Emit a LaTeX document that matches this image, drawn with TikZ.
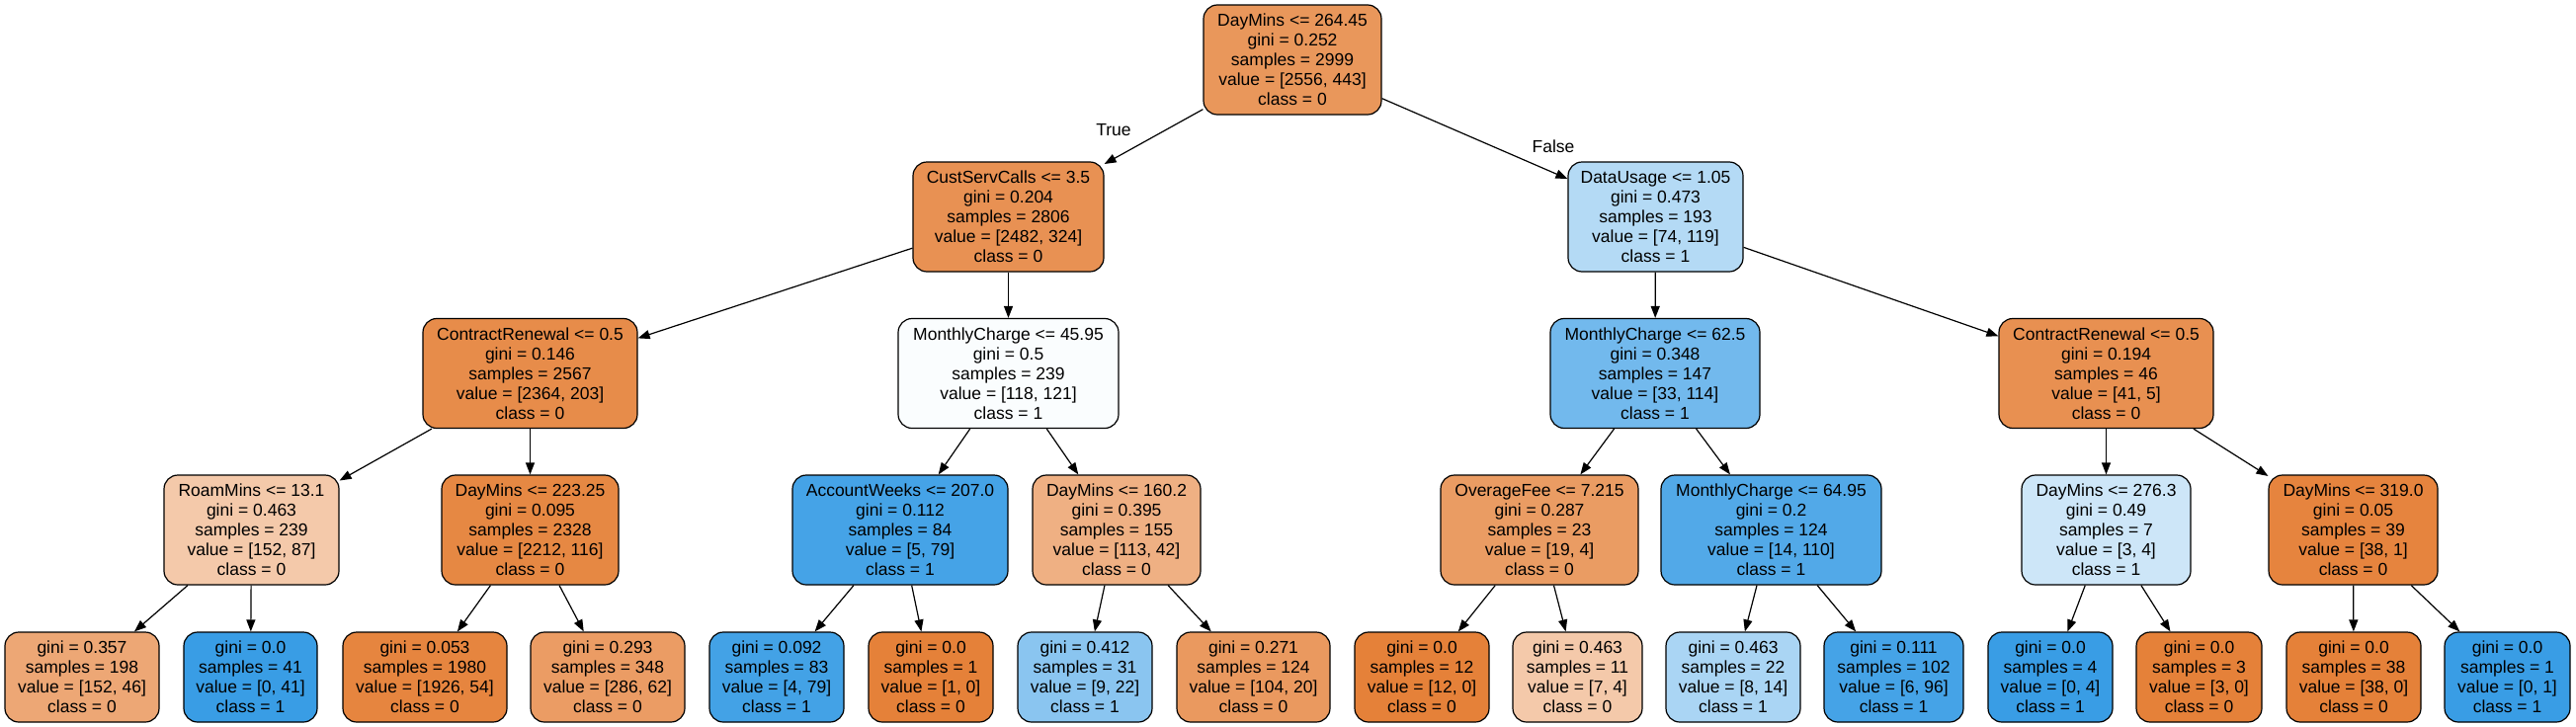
\documentclass[tikz,border=0pt]{standalone}
\usepackage{fontspec}
\setmainfont{Liberation Sans}
\usetikzlibrary{arrows.meta}
\definecolor{co}{RGB}{229,129,57}
\definecolor{cb}{RGB}{57,157,229}
\tikzset{
  tbox/.style={draw=black, line width=1.2pt, rounded corners=14pt, align=center,
    inner sep=0pt, minimum height=111pt, font=\fontsize{17.5}{20}\selectfont},
  leaf/.style={tbox, minimum height=91pt},
  edge/.style={draw=black, line width=1.2pt, -{Triangle[length=12pt,width=9pt]}},
  elab/.style={font=\fontsize{17.5}{20}\selectfont, inner sep=0pt}
}
\begin{document}
\begin{tikzpicture}[x=1pt,y=-1pt]
\useasboundingbox[fill=white] (0,0) rectangle (2607,736);
% level 0
\node[tbox, minimum width=180pt, fill=co!82.7!white] (n0) at (1308,60.5) {DayMins <= 264.45\\gini = 0.252\\samples = 2999\\value = [2556, 443]\\class = 0};
% level 1
\node[tbox, minimum width=193pt, fill=co!86.9!white] (n1) at (1020.5,219.5) {CustServCalls <= 3.5\\gini = 0.204\\samples = 2806\\value = [2482, 324]\\class = 0};
\node[tbox, minimum width=177pt, fill=cb!37.8!white] (n16) at (1675.5,219.5) {DataUsage <= 1.05\\gini = 0.473\\samples = 193\\value = [74, 119]\\class = 1};
% level 2
\node[tbox, minimum width=217pt, fill=co!91.4!white] (n2) at (536.5,378) {ContractRenewal <= 0.5\\gini = 0.146\\samples = 2567\\value = [2364, 203]\\class = 0};
\node[tbox, minimum width=223pt, fill=cb!2.5!white] (n9) at (1020.5,378) {MonthlyCharge <= 45.95\\gini = 0.5\\samples = 239\\value = [118, 121]\\class = 1};
\node[tbox, minimum width=212pt, fill=cb!71.1!white] (n17) at (1675,378) {MonthlyCharge <= 62.5\\gini = 0.348\\samples = 147\\value = [33, 114]\\class = 1};
\node[tbox, minimum width=217pt, fill=co!87.8!white] (n24) at (2131.5,378) {ContractRenewal <= 0.5\\gini = 0.194\\samples = 46\\value = [41, 5]\\class = 0};
% level 3
\node[tbox, minimum width=177pt, fill=co!42.8!white] (n3) at (254.5,536.5) {RoamMins <= 13.1\\gini = 0.463\\samples = 239\\value = [152, 87]\\class = 0};
\node[tbox, minimum width=179pt, fill=co!94.8!white] (n6) at (536.5,536.5) {DayMins <= 223.25\\gini = 0.095\\samples = 2328\\value = [2212, 116]\\class = 0};
\node[tbox, minimum width=218pt, fill=cb!93.7!white] (n10) at (911,536.5) {AccountWeeks <= 207.0\\gini = 0.112\\samples = 84\\value = [5, 79]\\class = 1};
\node[tbox, minimum width=170pt, fill=co!62.8!white] (n13) at (1130,536.5) {DayMins <= 160.2\\gini = 0.395\\samples = 155\\value = [113, 42]\\class = 0};
\node[tbox, minimum width=200pt, fill=co!78.9!white] (n18) at (1558,536.5) {OverageFee <= 7.215\\gini = 0.287\\samples = 23\\value = [19, 4]\\class = 0};
\node[tbox, minimum width=223pt, fill=cb!87.3!white] (n21) at (1792.5,536.5) {MonthlyCharge <= 64.95\\gini = 0.2\\samples = 124\\value = [14, 110]\\class = 1};
\node[tbox, minimum width=171pt, fill=cb!25!white] (n25) at (2131.5,536.5) {DayMins <= 276.3\\gini = 0.49\\samples = 7\\value = [3, 4]\\class = 1};
\node[tbox, minimum width=171pt, fill=co!97.4!white] (n28) at (2381.5,536.5) {DayMins <= 319.0\\gini = 0.05\\samples = 39\\value = [38, 1]\\class = 0};
% leaves
\node[leaf, minimum width=156pt, fill=co!69.7!white] (n4) at (83,685.5) {gini = 0.357\\samples = 198\\value = [152, 46]\\class = 0};
\node[leaf, minimum width=135pt, fill=cb] (n5) at (253.5,685.5) {gini = 0.0\\samples = 41\\value = [0, 41]\\class = 1};
\node[leaf, minimum width=166pt, fill=co!97.2!white] (n7) at (430,685.5) {gini = 0.053\\samples = 1980\\value = [1926, 54]\\class = 0};
\node[leaf, minimum width=156pt, fill=co!78.3!white] (n8) at (615,685.5) {gini = 0.293\\samples = 348\\value = [286, 62]\\class = 0};
\node[leaf, minimum width=136pt, fill=cb!94.9!white] (n11) at (786,685.5) {gini = 0.092\\samples = 83\\value = [4, 79]\\class = 1};
\node[leaf, minimum width=126pt, fill=co] (n12) at (942,685.5) {gini = 0.0\\samples = 1\\value = [1, 0]\\class = 0};
\node[leaf, minimum width=136pt, fill=cb!59.1!white] (n14) at (1098,685.5) {gini = 0.412\\samples = 31\\value = [9, 22]\\class = 1};
\node[leaf, minimum width=155pt, fill=co!80.8!white] (n15) at (1268.5,685.5) {gini = 0.271\\samples = 124\\value = [104, 20]\\class = 0};
\node[leaf, minimum width=136pt, fill=co] (n19) at (1439,685.5) {gini = 0.0\\samples = 12\\value = [12, 0]\\class = 0};
\node[leaf, minimum width=131pt, fill=co!42.9!white] (n20) at (1596.5,685.5) {gini = 0.463\\samples = 11\\value = [7, 4]\\class = 0};
\node[leaf, minimum width=136pt, fill=cb!42.9!white] (n22) at (1754,685.5) {gini = 0.463\\samples = 22\\value = [8, 14]\\class = 1};
\node[leaf, minimum width=141pt, fill=cb!93.8!white] (n23) at (1916.5,685.5) {gini = 0.111\\samples = 102\\value = [6, 96]\\class = 1};
\node[leaf, minimum width=126pt, fill=cb] (n26) at (2075,685.5) {gini = 0.0\\samples = 4\\value = [0, 4]\\class = 1};
\node[leaf, minimum width=127pt, fill=co] (n27) at (2225.5,685.5) {gini = 0.0\\samples = 3\\value = [3, 0]\\class = 0};
\node[leaf, minimum width=136pt, fill=co] (n29) at (2382,685.5) {gini = 0.0\\samples = 38\\value = [38, 0]\\class = 0};
\node[leaf, minimum width=127pt, fill=cb] (n30) at (2537.5,685.5) {gini = 0.0\\samples = 1\\value = [0, 1]\\class = 1};
% edge labels
\node[elab] (lt) at (1127,132) {True};
\node[elab] (lf) at (1572,148) {False};
% edges
\path[edge] (n0) -- (n1);
\path[edge] (n0) -- (n16);
\path[edge] (n1) -- (n2);
\path[edge] (n1) -- (n9);
\path[edge] (n2) -- (n3);
\path[edge] (n2) -- (n6);
\path[edge] (n3) -- (n4);
\path[edge] (n3) -- (n5);
\path[edge] (n6) -- (n7);
\path[edge] (n6) -- (n8);
\path[edge] (n9) -- (n10);
\path[edge] (n9) -- (n13);
\path[edge] (n10) -- (n11);
\path[edge] (n10) -- (n12);
\path[edge] (n13) -- (n14);
\path[edge] (n13) -- (n15);
\path[edge] (n16) -- (n17);
\path[edge] (n16) -- (n24);
\path[edge] (n17) -- (n18);
\path[edge] (n17) -- (n21);
\path[edge] (n18) -- (n19);
\path[edge] (n18) -- (n20);
\path[edge] (n21) -- (n22);
\path[edge] (n21) -- (n23);
\path[edge] (n24) -- (n25);
\path[edge] (n24) -- (n28);
\path[edge] (n25) -- (n26);
\path[edge] (n25) -- (n27);
\path[edge] (n28) -- (n29);
\path[edge] (n28) -- (n30);
\end{tikzpicture}
\end{document}
